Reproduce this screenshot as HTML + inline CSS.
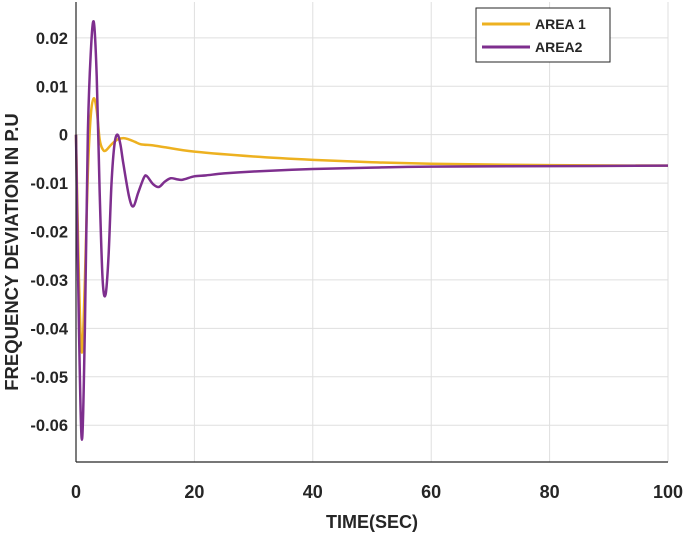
<!DOCTYPE html>
<html><head><meta charset="utf-8">
<style>
html,body{margin:0;padding:0;background:#fff;}
svg{display:block;font-family:"Liberation Sans",Arial,sans-serif;}
</style></head>
<body>
<svg id="chart" width="685" height="534" viewBox="0 0 685 534" xmlns="http://www.w3.org/2000/svg">
<g id="grid"></g>
<g id="series"></g>
<g id="axes"></g>
<text x="372" y="528" text-anchor="middle" font-size="18" font-weight="bold" fill="#262626">TIME(SEC)</text>
<text transform="translate(18,252) rotate(-90)" text-anchor="middle" font-size="18.5" font-weight="bold" fill="#262626">FREQUENCY DEVIATION IN P.U</text>
<g>
<rect x="476" y="8" width="134" height="54" fill="#fff" stroke="#262626" stroke-width="1"/>
<line x1="482" y1="24" x2="530" y2="24" stroke="#EDB120" stroke-width="3"/>
<text x="535" y="29" font-size="14" font-weight="bold" fill="#262626">AREA 1</text>
<line x1="482" y1="47" x2="530" y2="47" stroke="#7E2F8E" stroke-width="3"/>
<text x="535" y="52" font-size="14" font-weight="bold" fill="#262626">AREA2</text>
</g>
</svg>
<script>
const xTicks=[0,20,40,60,80,100];
const yTicks=[0.02,0.01,0,-0.01,-0.02,-0.03,-0.04,-0.05,-0.06];
const yTickLabels=["0.02","0.01","0","-0.01","-0.02","-0.03","-0.04","-0.05","-0.06"];
const timeArea1=[0,0.5,1,1.5,2,2.5,3,3.5,4,4.5,5,6,7,8,9,10,11,13,15,20,30,40,50,60,80,100];
const valArea1=[0,-0.03,-0.045,-0.03,-0.008,0.004,0.0075,0.005,-0.001,-0.003,-0.0033,-0.002,-0.001,-0.0007,-0.001,-0.0015,-0.002,-0.0022,-0.0026,-0.0035,-0.0045,-0.0052,-0.0057,-0.006,-0.0063,-0.0064];
const timeArea2=[0,0.5,1,1.5,2,2.5,3,3.5,4,4.5,5,5.5,6,6.5,7,7.5,8,9,9.7,10.5,11.5,12,13,14,15,16,17,18,20,22,25,30,40,50,60,80,100];
const valArea2=[0,-0.04,-0.063,-0.04,0,0.017,0.0233,0.012,-0.012,-0.03,-0.033,-0.025,-0.01,-0.002,0,-0.002,-0.006,-0.013,-0.0148,-0.012,-0.0088,-0.0086,-0.0102,-0.0108,-0.0097,-0.009,-0.0092,-0.0093,-0.0086,-0.0084,-0.008,-0.0076,-0.0071,-0.0068,-0.0066,-0.0065,-0.0064];
const X0=76,X1=668,YT=2,YB=462;
const xMin=0,xMax=100,yMax=0.0274,yMin=-0.0676;
const sx=v=>X0+(v-xMin)/(xMax-xMin)*(X1-X0);
const sy=v=>YT+(yMax-v)/(yMax-yMin)*(YB-YT);
const NS="http://www.w3.org/2000/svg";
const mk=(t,a,p)=>{const e=document.createElementNS(NS,t);for(const k in a)e.setAttribute(k,a[k]);p.appendChild(e);return e;};
const grid=document.getElementById('grid'),axes=document.getElementById('axes'),ser=document.getElementById('series');
mk('rect',{x:X0,y:YT,width:X1-X0,height:YB-YT,fill:'#fff'},grid);
xTicks.forEach(t=>{
  const g=mk('line',{x1:sx(t),x2:sx(t),y1:YT,y2:YB,stroke:'#dfdfdf','stroke-width':1},grid);
  
  
  const l=mk('text',{x:sx(t),y:YB+36,'text-anchor':'middle','font-size':18,'font-weight':'bold',fill:'#262626'},axes);
  l.textContent=t;
  
  
});
yTicks.forEach((t,i)=>{
  const g=mk('line',{x1:X0,x2:X1,y1:sy(t),y2:sy(t),stroke:'#dfdfdf','stroke-width':1},grid);
  
  
  const l=mk('text',{x:X0-8,y:sy(t)+6,'text-anchor':'end','font-size':16.5,'font-weight':'bold',fill:'#262626'},axes);
  l.textContent=yTickLabels[i];
  
  
});
const ax1=mk('line',{x1:X0,x2:X0,y1:YT,y2:YB,stroke:'#262626','stroke-width':1.2},axes);


const ax2=mk('line',{x1:X0,x2:X1,y1:YB,y2:YB,stroke:'#262626','stroke-width':1.2},axes);


function pathOf(ts,vs){
  const p=ts.map((t,i)=>[sx(t),sy(vs[i])]);
  let d='M'+p[0][0]+','+p[0][1];
  for(let i=0;i<p.length-1;i++){
    const p0=p[i-1]||p[i],p1=p[i],p2=p[i+1],p3=p[i+2]||p2;
    const c1=[p1[0]+(p2[0]-p0[0])/6,p1[1]+(p2[1]-p0[1])/6];
    const c2=[p2[0]-(p3[0]-p1[0])/6,p2[1]-(p3[1]-p1[1])/6];
    d+=' C'+c1+' '+c2+' '+p2;
  }
  return d;
}
const s1=mk('path',{d:pathOf(timeArea1,valArea1),fill:'none',stroke:'#EDB120','stroke-width':2.5},ser);


const s2=mk('path',{d:pathOf(timeArea2,valArea2),fill:'none',stroke:'#7E2F8E','stroke-width':2.5},ser);


</script>
</body></html>
